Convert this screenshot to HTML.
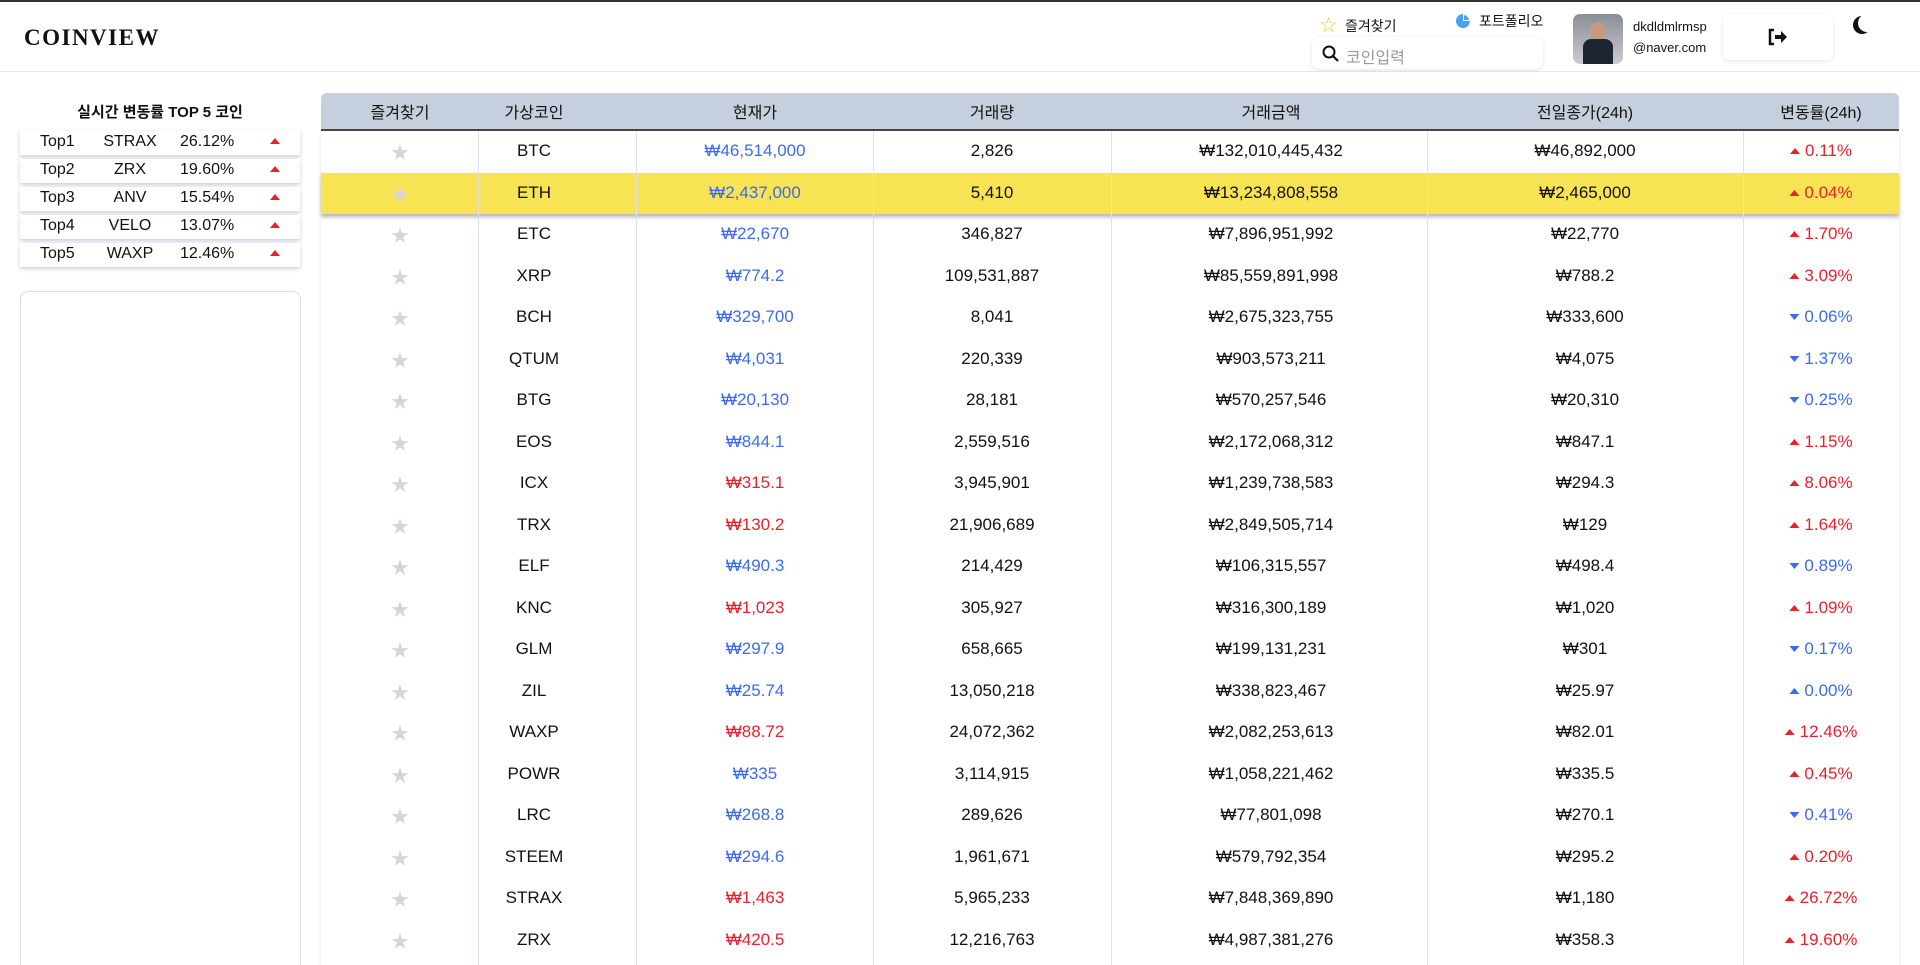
<!DOCTYPE html>
<html><head><meta charset="utf-8">
<style>
*{box-sizing:border-box;margin:0;padding:0}
html,body{width:1920px;height:965px;overflow:hidden}
body{background:#fff;font-family:"Liberation Sans","Noto Sans CJK KR",sans-serif;color:#111;position:relative}
#topline{position:absolute;left:0;top:0;width:1920px;height:2px;background:#333}
#header{position:absolute;left:0;top:2px;width:1920px;height:70px;border-bottom:1px solid #e6e6e6}
.abs{position:absolute}
#logo{left:24px;top:23px;font-family:"Liberation Serif",serif;font-weight:bold;font-size:23px;letter-spacing:1.5px}
.hdr-t{font-size:14px}
#search{left:1312px;top:35px;width:231px;height:32px;border-radius:8px;box-shadow:0 1px 4px rgba(0,0,0,.12);}
#search span{position:absolute;left:34px;top:7px;font-size:16px;color:#999}
#avatar{left:1573px;top:12px;width:50px;height:50px;border-radius:7px;background:linear-gradient(#8a8f95,#c9ccd0);overflow:hidden}
#logout{left:1723px;top:12px;width:110px;height:46px;border-radius:6px;box-shadow:0 1px 4px rgba(0,0,0,.1)}
#left-title{left:20px;width:280px;top:101px;text-align:center;font-weight:bold;font-size:15px}
.top-row{position:absolute;left:20px;width:280px;height:24px;background:#fff;box-shadow:0 2px 4px rgba(40,60,100,.25);font-size:16px}
.top-row span{position:absolute;top:2px}
#left-box{left:20px;top:291px;width:281px;height:700px;border:1px solid #ddd;border-radius:8px}
#table{left:321px;top:93px;width:1578px;height:900px}
#thead{position:absolute;left:0;top:0;width:1578px;height:38px;background:#c6cfdd;border-radius:6px 6px 0 0;border-bottom:2px solid #444}
.th{position:absolute;top:6px;font-size:16px;transform:translateX(-50%);white-space:nowrap}
.row{position:absolute;left:0;width:1578px;height:41.5px;box-shadow:0 3px 3px rgba(0,0,0,.12);background:#fff}
.cell{position:absolute;top:10px;font-size:17px;transform:translateX(-50%);white-space:nowrap}
.vline{position:absolute;top:38px;width:1px;height:870px;background:#dde1e8}
.blue{color:#3d6bf0}.red{color:#e8222d}
.tri{display:inline-block;width:0;height:0;border-left:5px solid transparent;border-right:5px solid transparent;margin-right:5px;vertical-align:2px}
.tri.up{border-bottom:6px solid currentColor}.tri.down{border-top:6px solid currentColor}
.star{color:#d6d6d6;font-size:18px}
</style></head><body>
<div id="topline"></div>
<div id="header">
 <div id="logo" class="abs">COINVIEW</div>
 <div class="abs hdr-t" style="left:1320px;top:9px"><span style="color:#e8cc3a;font-size:17px">☆</span><span style="margin-left:8px">즐겨찾기</span></div>
 <div class="abs hdr-t" style="left:1455px;top:9px"><svg width="16" height="16" viewBox="0 0 16 16" style="vertical-align:-3px"><circle cx="8" cy="8" r="7" fill="#4aa3f0"/><path d="M8 8V1A7 7 0 0 1 15 8Z" fill="#fff"/><path d="M9 7V2A6 6 0 0 1 14 7Z" fill="#4aa3f0"/></svg><span style="margin-left:8px">포트폴리오</span></div>
 <div id="search" class="abs">
  <svg class="abs" style="left:10px;top:8px" width="17" height="17" viewBox="0 0 17 17"><circle cx="7" cy="7" r="5.5" fill="none" stroke="#111" stroke-width="2"/><path d="M11 11l5 5" stroke="#111" stroke-width="2.2"/></svg>
  <span>코인입력</span></div>
 <div id="avatar" class="abs"><div style="position:absolute;left:17px;top:8px;width:16px;height:18px;border-radius:8px;background:#c49a80"></div><div style="position:absolute;left:10px;top:25px;width:30px;height:30px;border-radius:8px 8px 0 0;background:#1f2530"></div></div>
 <div class="abs" style="left:1633px;top:17px;font-size:13px">dkdldmlrmsp</div>
 <div class="abs" style="left:1633px;top:38px;font-size:13px">@naver.com</div>
 <div id="logout" class="abs"><svg class="abs" style="left:45px;top:14px" width="20" height="18" viewBox="0 0 20 18"><path d="M6 2H2v14h4" fill="none" stroke="#111" stroke-width="2.5"/><path d="M7 7h6V3l6 6-6 6v-4H7z" fill="#111"/></svg></div>
 <div class="abs" style="left:1858px;top:12px;width:18px;height:18px;border-radius:50%;box-shadow:-5px 2px 0 0 #111"></div>
</div>
<div id="left-title" class="abs">실시간 변동률 TOP 5 코인</div>
<div id="top5"></div>
<div id="left-box" class="abs"></div>
<div id="table" class="abs">
 <div id="thead"></div>
 <div id="tbody"></div>
</div>
<script>
const topRanks=["Top1","Top2","Top3","Top4","Top5"];
const topCoins=["STRAX","ZRX","ANV","VELO","WAXP"];
const topRates=["26.12%","19.60%","15.54%","13.07%","12.46%"];
const headers=["즐겨찾기","가상코인","현재가","거래량","거래금액","전일종가(24h)","변동률(24h)"];
const coins=["BTC","ETH","ETC","XRP","BCH","QTUM","BTG","EOS","ICX","TRX","ELF","KNC","GLM","ZIL","WAXP","POWR","LRC","STEEM","STRAX","ZRX","ANV"];
const prices=[46514000,2437000,22670,774.2,329700,4031,20130,844.1,315.1,130.2,490.3,1023,297.9,25.74,88.72,335,268.8,294.6,1463,420.5,400];
const volumes=["2,826","5,410","346,827","109,531,887","8,041","220,339","28,181","2,559,516","3,945,901","21,906,689","214,429","305,927","658,665","13,050,218","24,072,362","3,114,915","289,626","1,961,671","5,965,233","12,216,763",""];
const amounts=["132,010,445,432","13,234,808,558","7,896,951,992","85,559,891,998","2,675,323,755","903,573,211","570,257,546","2,172,068,312","1,239,738,583","2,849,505,714","106,315,557","316,300,189","199,131,231","338,823,467","2,082,253,613","1,058,221,462","77,801,098","579,792,354","7,848,369,890","4,987,381,276",""];
const prevClose=[46892000,2465000,22770,788.2,333600,4075,20310,847.1,294.3,129,498.4,1020,301,25.97,82.01,335.5,270.1,295.2,1180,358.3,350];
const changes=["0.11%","0.04%","1.70%","3.09%","0.06%","1.37%","0.25%","1.15%","8.06%","1.64%","0.89%","1.09%","0.17%","0.00%","12.46%","0.45%","0.41%","0.20%","26.72%","19.60%",""];
const changeDir=["up","up","up","up","down","down","down","up","up","up","down","up","down","up","up","up","down","up","up","up","up"];
const changeColor=["red","red","red","red","blue","blue","blue","red","red","red","blue","red","blue","blue","red","red","blue","red","red","red","red"];

const colX=[79,213,434,671,950,1264,1500];
const colLines=[157,315,552,790,1106,1422];
const ROWH=41.5;
function fmt(v){return v.toLocaleString('en-US',{maximumFractionDigits:2});}

const t5=document.getElementById('top5');
topRanks.forEach((r,i)=>{
 const d=document.createElement('div');d.className='top-row';d.style.top=(131+i*28)+'px';
 
 
 d.innerHTML=`<span style="left:20px">${r}</span><span style="left:70px;width:80px;text-align:center">${topCoins[i]}</span><span style="left:160px">${topRates[i]}</span><span class="red" style="left:250px;top:2px"><i class="tri up"></i></span>`;
 t5.appendChild(d);
});
const th=document.getElementById('thead');
headers.forEach((h,i)=>{
 const s=document.createElement('div');s.className='th';s.style.left=colX[i]+'px';s.textContent=h;
 
 
 th.appendChild(s);
});
const tb=document.getElementById('tbody');
coins.forEach((c,i)=>{
 const r=document.createElement('div');r.className='row';r.style.top=(38+i*ROWH)+'px';
 if(c==='ETH'){r.style.background='#f7e353';r.style.boxShadow='0 3px 4px rgba(0,0,0,.3)';r.style.zIndex=2;}
 
 
 const pc=prices[i]>prevClose[i]?'red':'blue';
 const vals=['<span class="star">★</span>',c,'<span class="'+pc+'">₩'+fmt(prices[i])+'</span>',volumes[i],amounts[i]?'₩'+amounts[i]:'','₩'+fmt(prevClose[i]),changes[i]?'<span class="'+changeColor[i]+'"><i class="tri '+changeDir[i]+'"></i>'+changes[i]+'</span>':''];
 vals.forEach((v,j)=>{const s=document.createElement('div');s.className='cell';s.style.left=colX[j]+'px';if(j===0)s.style.top='8px';s.innerHTML=v;r.appendChild(s);});
 tb.appendChild(r);
});
colLines.forEach(x=>{const l=document.createElement('div');l.className='vline';l.style.left=x+'px';l.style.zIndex=3;
 
 
 document.getElementById('table').appendChild(l);});
</script>
</body></html>
